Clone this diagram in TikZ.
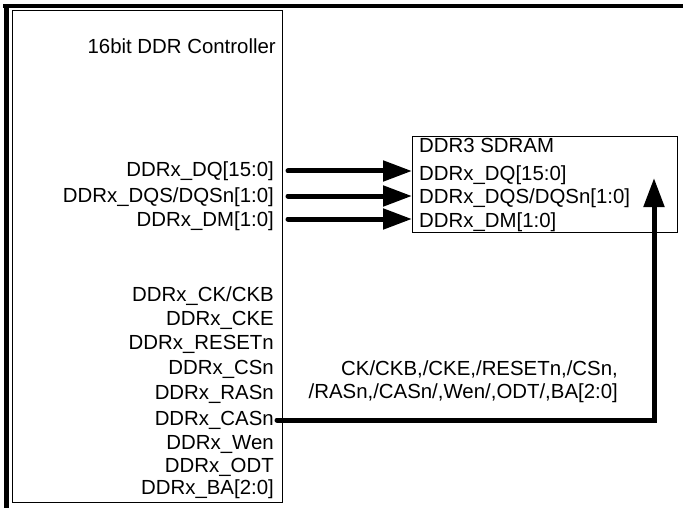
\documentclass[tikz,border=0pt]{standalone}
\usepackage{fontspec}
\setmainfont{Liberation Sans}
\usetikzlibrary{arrows.meta}
\begin{document}
\begin{tikzpicture}[x=1pt,y=-1pt,
  every node/.style={inner sep=0pt,font=\fontsize{20.4}{24}\selectfont},
  lbl/.style={anchor=base east},
  rlbl/.style={anchor=base west},
  box/.style={draw,line width=1pt,anchor=north west,inner sep=0pt},
  bus/.style={line width=5pt,line cap=round,-{Triangle[length=29pt,width=20pt]}}]
\useasboundingbox (0,0) rectangle (683,508);
% outer frame
\fill (3,4) rectangle (683,8);
\fill (4,4) rectangle (9,508);
% boxes
\node[box,minimum width=270pt,minimum height=492pt] (ctrl) at (12,10) {};
\node[box,minimum width=265pt,minimum height=96pt] (sdram) at (412,136) {};
% controller labels
\node[lbl] (title) at (276,54) {16bit DDR Controller};
\node[lbl] (ldq) at (274,177) {DDRx\_DQ[15:0]};
\node[lbl] (ldqs) at (274,202) {DDRx\_DQS/DQSn[1:0]};
\node[lbl] (ldm) at (274,226) {DDRx\_DM[1:0]};
\node[lbl] (lck) at (274,301) {DDRx\_CK/CKB};
\node[lbl] (lcke) at (274,325) {DDRx\_CKE};
\node[lbl] (lrst) at (274,349) {DDRx\_RESETn};
\node[lbl] (lcs) at (274,374) {DDRx\_CSn};
\node[lbl] (lras) at (274,399) {DDRx\_RASn};
\node[lbl] (lcas) at (274,425) {DDRx\_CASn};
\node[lbl] (lwe) at (274,449) {DDRx\_Wen};
\node[lbl] (lodt) at (274,472) {DDRx\_ODT};
\node[lbl] (lba) at (274,494) {DDRx\_BA[2:0]};
% sdram labels
\node[rlbl] (stitle) at (419,153) {DDR3 SDRAM};
\node[rlbl] (sdq) at (419,180) {DDRx\_DQ[15:0]};
\node[rlbl] (sdqs) at (419,204) {DDRx\_DQS/DQSn[1:0]};
\node[rlbl] (sdm) at (419,227) {DDRx\_DM[1:0]};
% bus label
\node[anchor=base east] (cl1) at (618,375) {CK/CKB,/CKE,/RESETn,/CSn,};
\node[anchor=base east] (cl2) at (618,398) {/RASn,/CASn/,Wen/,ODT/,BA[2:0]};
% connectors
\coordinate (adq) at (288,171);
\coordinate (adqs) at (288,196);
\coordinate (adm) at (288,219);
\draw[bus] (adq) -- (adq -| sdram.west);
\draw[bus] (adqs) -- (adqs -| sdram.west);
\draw[bus] (adm) -- (adm -| sdram.west);
\coordinate (cs) at (277,420);
\coordinate (ce) at (654,178);
\draw[bus,line cap=round] (cs) -| (ce);
\end{tikzpicture}
\end{document}
